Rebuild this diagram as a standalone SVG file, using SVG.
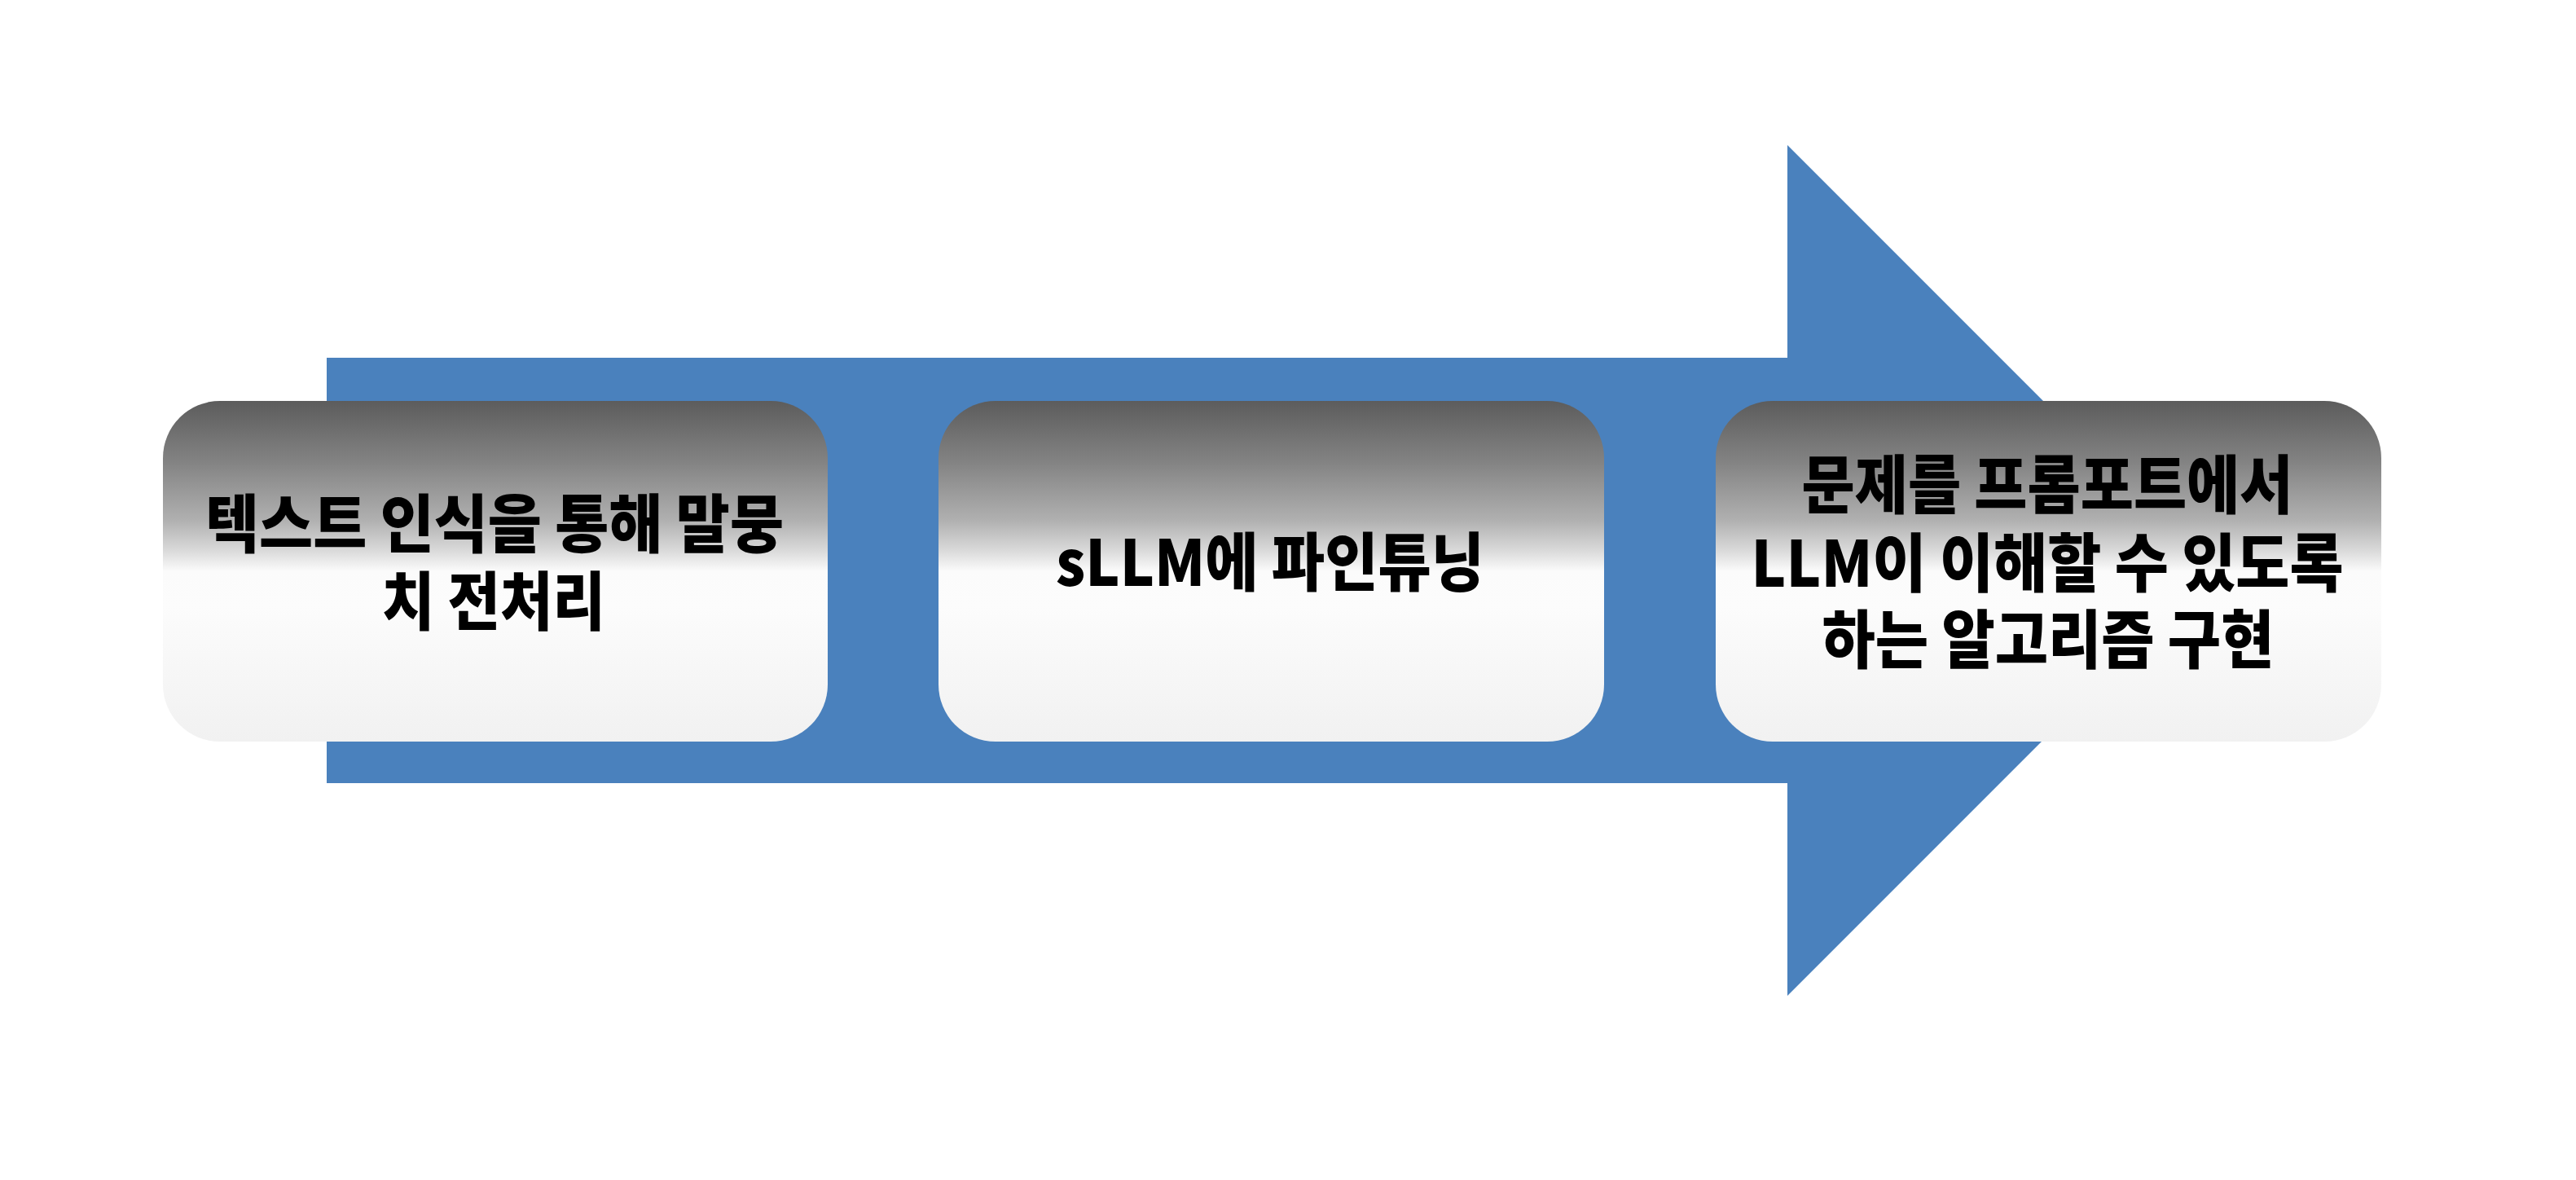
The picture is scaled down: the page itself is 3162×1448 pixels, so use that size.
<svg xmlns="http://www.w3.org/2000/svg" width="3162" height="1448" viewBox="0 0 3162 1448">
<defs>
<linearGradient id="boxGrad" x1="0" y1="0" x2="0" y2="1">
<stop offset="0" stop-color="#5c5c5c"/>
<stop offset="0.18" stop-color="#838383"/>
<stop offset="0.35" stop-color="#b0b0b0"/>
<stop offset="0.44" stop-color="#dadada"/>
<stop offset="0.5" stop-color="#fbfbfb"/>
<stop offset="0.6" stop-color="#fcfcfc"/>
<stop offset="1" stop-color="#f1f1f1"/>
</linearGradient>
<style>
.box{fill:url(#boxGrad);}
.lbl{font-family:"Noto Sans CJK KR","Noto Sans",sans-serif;font-weight:900;font-size:78px;fill:#000;text-anchor:middle;}
</style>
</defs>
<rect width="3162" height="1448" fill="#ffffff"/>
<g id="connectors">
<polygon points="401,439 2194,439 2194,178 2716,700 2194,1222 2194,961 401,961" fill="#4a81bd"/>
</g>
<g id="node1">
<rect class="box" x="200" y="492" width="816" height="418" rx="70" ry="70"/>
<text class="lbl" x="607" y="672" textLength="710" lengthAdjust="spacingAndGlyphs">텍스트 인식을 통해 말뭉</text>
<text class="lbl" x="606" y="767" textLength="274" lengthAdjust="spacingAndGlyphs">치 전처리</text>
</g>
<g id="node2">
<rect class="box" x="1152" y="492" width="817" height="418" rx="70" ry="70"/>
<text class="lbl" x="1559" y="719" textLength="526" lengthAdjust="spacingAndGlyphs">sLLM에 파인튜닝</text>
</g>
<g id="node3">
<rect class="box" x="2106" y="492" width="817" height="418" rx="70" ry="70"/>
<text class="lbl" x="2513" y="624" textLength="603" lengthAdjust="spacingAndGlyphs">문제를 프롬포트에서</text>
<text class="lbl" x="2513" y="720" textLength="727" lengthAdjust="spacingAndGlyphs">LLM이 이해할 수 있도록</text>
<text class="lbl" x="2514" y="814" textLength="555" lengthAdjust="spacingAndGlyphs">하는 알고리즘 구현</text>
</g>
</svg>
